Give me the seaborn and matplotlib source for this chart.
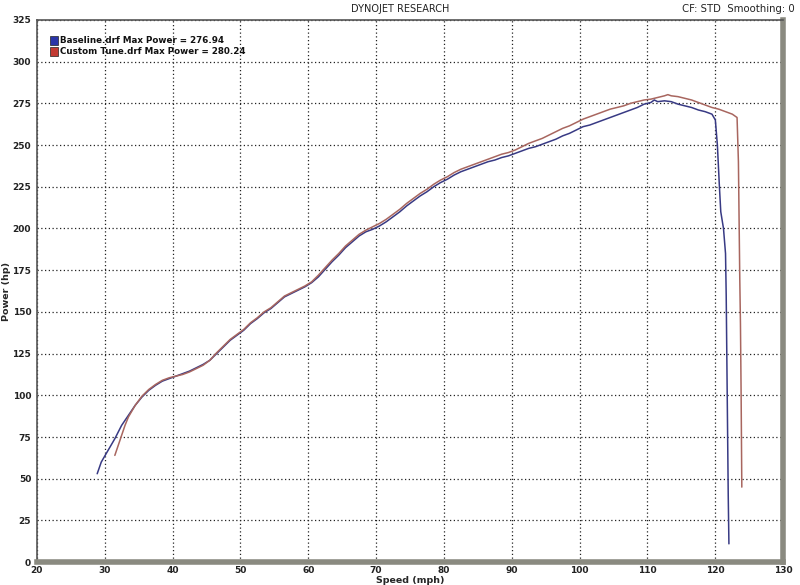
import numpy as np
import pandas as pd
import matplotlib
matplotlib.use("Agg")
import matplotlib.pyplot as plt
import seaborn as sns
from matplotlib.patches import Rectangle

# curves
base_mph = [28.9, 29.5, 30.5, 31.5, 32.5, 33.5, 34.5, 35.5, 36.5, 37.5, 38.5, 39.5,
            40.5, 41.5, 42.5, 43.5, 44.5, 45.5, 46.5, 47.5, 48.5, 49.5, 50.5, 51.5,
            52.5, 53.5, 54.5, 55.5, 56.5, 57.5, 58.5, 59.5, 60.5, 61.5, 62.5, 63.5,
            64.5, 65.5, 66.5, 67.5, 68.5, 69.5, 70.5, 71.5, 72.5, 73.5, 74.5, 75.5,
            76.5, 77.5, 78.5, 79.5, 80.5, 81.5, 82.5, 83.5, 84.5, 85.5, 86.5, 87.5,
            88.5, 89.5, 90.5, 91.5, 92.5, 93.5, 94.5, 95.5, 96.5, 97.5, 98.5, 99.5,
            100.5, 101.5, 102.5, 103.5, 104.5, 105.5, 106.5, 107.5, 108.5, 109.5,
            110.5, 111.0, 111.5, 112.5, 113.5, 114.5, 115.5, 116.5, 117.5, 118.5,
            119.5, 120.0, 120.3, 120.6, 120.8, 121.2, 121.5, 121.6, 121.7, 121.8,
            121.9, 122.0]
base_hp = [53, 60, 67, 74, 82, 88, 94, 99, 103, 106, 108.5, 110,
           111.5, 113, 114.5, 116.5, 118.5, 121, 125, 129, 133, 136, 139, 143,
           146, 149.5, 152, 155.5, 159, 161, 163, 165, 167.5, 171, 175.5, 180,
           184, 188.5, 192, 195.5, 198, 199.5, 201.5, 204, 207, 210, 213.5, 216.5,
           219.5, 222, 225, 227.5, 229.5, 232, 234, 235.5, 237, 238.5, 240, 241,
           242.5, 243.5, 245, 246.5, 248, 249, 250.5, 252, 253.5, 255.5, 257, 259,
           261, 262, 263.5, 265, 266.5, 268, 269.5, 271, 272.5, 274.5,
           275.5, 277, 276, 276.5, 276, 274.5, 273.5, 272.5, 271, 270,
           268.5, 265, 250, 225, 210, 200, 185, 160, 120, 80,
           40, 11]

tune_mph = [31.5, 32.0, 32.5, 33.0, 33.5, 34.5, 35.5, 36.5, 37.5, 38.5, 39.5,
            40.5, 41.5, 42.5, 43.5, 44.5, 45.5, 46.5, 47.5, 48.5, 49.5, 50.5, 51.5,
            52.5, 53.5, 54.5, 55.5, 56.5, 57.5, 58.5, 59.5, 60.5, 61.5, 62.5, 63.5,
            64.5, 65.5, 66.5, 67.5, 68.5, 69.5, 70.5, 71.5, 72.5, 73.5, 74.5, 75.5,
            76.5, 77.5, 78.5, 79.5, 80.5, 81.5, 82.5, 83.5, 84.5, 85.5, 86.5, 87.5,
            88.5, 89.5, 90.5, 91.5, 92.5, 93.5, 94.5, 95.5, 96.5, 97.5, 98.5, 99.5,
            100.5, 101.5, 102.5, 103.5, 104.5, 105.5, 106.5, 107.5, 108.5, 109.5,
            110.5, 111.5, 112.5, 113.0, 113.5, 114.5, 115.5, 116.5, 117.5, 118.5,
            119.5, 120.5, 121.5, 122.5, 123.2, 123.4, 123.5, 123.6, 123.7, 123.8,
            123.9]
tune_hp = [64, 70, 76, 82, 87, 94, 99.5, 103.5, 106.5, 109, 110.5,
           111.5, 112.5, 114, 116, 118, 121, 125.5, 129.5, 133.5, 136.5, 139.5, 143.5,
           146.5, 150, 152.5, 156, 159.5, 161.5, 163.5, 165.5, 168, 172, 176.5, 181,
           185, 189.5, 193, 196.5, 199, 201, 203, 205.5, 208.5, 211.5, 215, 218,
           221, 223.5, 226.5, 229, 231, 233.5, 235.5, 237, 238.5, 240, 241.5, 243,
           244.5, 245.5, 247, 249, 251, 252.5, 254, 256, 258, 260, 261.5, 263.5,
           265.5, 267, 268.5, 270, 271.5, 272.5, 273.5, 275, 276, 277,
           277.5, 278.5, 279.5, 280.2, 279.5, 279, 278, 277, 275.5, 274,
           272.5, 271.5, 270, 268.5, 266.5, 240, 205, 170, 143, 100,
           45]

legend_labels = ["Baseline.drf Max Power = 276.94", "Custom Tune.drf Max Power = 280.24"]
line_colors = ["#383a84", "#a8665f"]
box_colors = ["#2a35a8", "#c23a32"]

df = pd.concat([
    pd.DataFrame({"Speed": base_mph, "Power": base_hp, "run": "Baseline"}),
    pd.DataFrame({"Speed": tune_mph, "Power": tune_hp, "run": "Custom Tune"}),
])

sns.set_style("white")
plt.rcParams["font.family"] = ["DejaVu Sans"]

fig = plt.figure(figsize=(8, 5.85), dpi=100)
ax = fig.add_axes([0.046, 0.039, 0.933, 0.927])

sns.lineplot(data=df, x="Speed", y="Power", hue="run", palette=line_colors,
             estimator=None, sort=False, linewidth=1.1, legend=False, ax=ax)

ax.set_xlim(20, 130)
ax.set_ylim(0, 325)
ax.set_xticks(np.arange(20, 131, 10))
ax.set_yticks(np.arange(0, 326, 25))
ax.set_xticks(np.arange(20, 131, 2), minor=True)
ax.set_yticks(np.arange(0, 326, 5), minor=True)
ax.grid(True, which="major", color="#222222", linestyle=(0, (1, 2)), linewidth=0.9)
ax.tick_params(which="major", direction="inout", length=6, width=1, colors="#333333",
               labelsize=6.5, pad=1)
ax.tick_params(axis="x", which="major", pad=0)
ax.tick_params(which="minor", direction="inout", length=4, width=1, colors="#333333")
for lbl in ax.get_xticklabels() + ax.get_yticklabels():
    lbl.set_fontweight("bold")
    lbl.set_color("#222222")

for side in ["top", "left"]:
    ax.spines[side].set_color("#555555")
    ax.spines[side].set_linewidth(1.2)
for side in ["bottom", "right"]:
    ax.spines[side].set_color("#8a8a80")
    ax.spines[side].set_linewidth(4)

ax.set_xlabel("Speed (mph)", fontsize=6.8, fontweight="bold")
ax.set_ylabel("Power (hp)", fontsize=6.8, fontweight="bold")
ax.xaxis.set_label_coords(0.5, -0.025)
ax.yaxis.set_label_coords(-0.041, 0.5)
ax.yaxis.label.set_va("center")

fig.text(0.5, 0.985, "DYNOJET RESEARCH", ha="center", va="center", fontsize=7, color="#222222")
fig.text(0.993, 0.985, "CF: STD  Smoothing: 0", ha="right", va="center", fontsize=7.3, color="#222222")

for i, (txt, col) in enumerate(zip(legend_labels, box_colors)):
    y = 0.962 - i * 0.0205
    ax.add_patch(Rectangle((0.0174, y - 0.008), 0.0107, 0.016, transform=ax.transAxes,
                           facecolor=col, edgecolor="#222222", linewidth=0.5, clip_on=False))
    ax.text(0.031, y, txt, transform=ax.transAxes, fontsize=6.3, fontweight="bold",
            va="center", ha="left", color="#111111")

fig.savefig("out.png", dpi=100)
